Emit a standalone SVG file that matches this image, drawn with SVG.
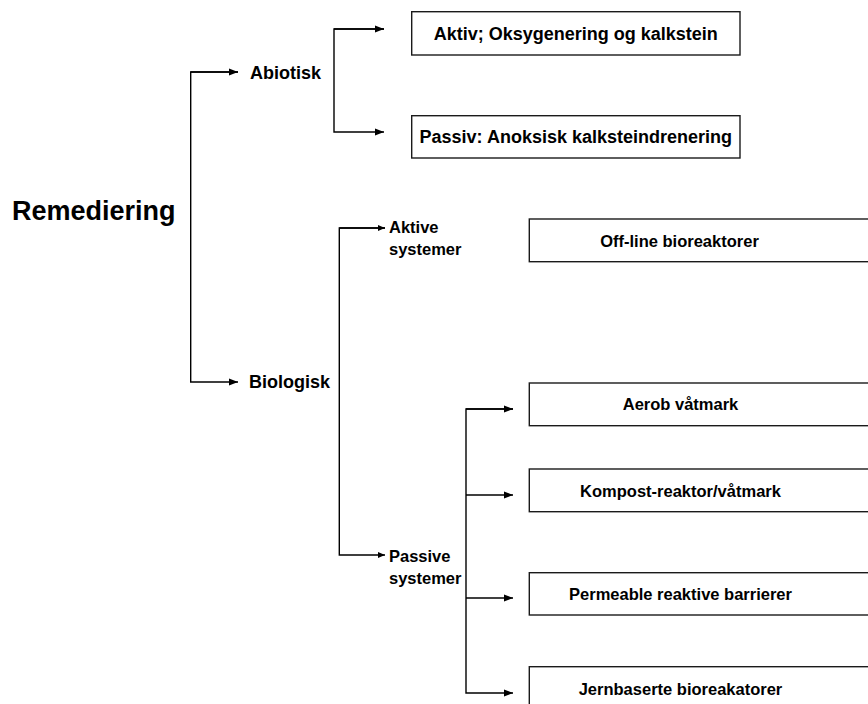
<svg xmlns="http://www.w3.org/2000/svg" width="868" height="704" viewBox="0 0 868 704">
<style>
.ln{fill:none;stroke:#000;stroke-width:1.4}
.box{fill:#fff;stroke:#1a1a1a;stroke-width:1.4}
text{font-family:"Liberation Sans",Arial,sans-serif;font-weight:bold;fill:#000}
.t18{font-size:18px}
.t16{font-size:16.5px}
.mid{text-anchor:middle}
</style>
<defs>
<marker id="ah" markerUnits="userSpaceOnUse" markerWidth="10" markerHeight="8" refX="9" refY="4" orient="auto">
<path d="M0,0.5 L9,4 L0,7.5 z" fill="#000"/>
</marker>
<marker id="ahs" markerUnits="userSpaceOnUse" markerWidth="8" markerHeight="7" refX="7" refY="3" orient="auto">
<path d="M0,0 L7,3 L0,6 z" fill="#000"/>
</marker>
</defs>
<rect width="868" height="704" fill="#fff"/>
<g id="connectors">
<path class="ln" d="M238,72 H190.7 V382 H238" marker-end="url(#ah)"/>
<path class="ln" d="M190.7,72 H238" marker-end="url(#ah)"/>
<path class="ln" d="M384,29 H334 V132 H384" marker-end="url(#ah)"/>
<path class="ln" d="M334,29 H384" marker-end="url(#ah)"/>
<path class="ln" d="M385,228 H339.3 V555 H385" marker-end="url(#ahs)"/>
<path class="ln" d="M339.3,228 H385" marker-end="url(#ahs)"/>
<path class="ln" d="M513,409 H466 V693 H513" marker-end="url(#ah)"/>
<path class="ln" d="M466,409 H513" marker-end="url(#ah)"/>
<path class="ln" d="M466,495 H513" marker-end="url(#ah)"/>
<path class="ln" d="M466,598 H513" marker-end="url(#ah)"/>
</g>
<g id="remediering"><text x="12" y="220" style="font-size:27px">Remediering</text></g>
<g id="abiotisk"><text class="t18" x="250" y="79">Abiotisk</text></g>
<g id="biologisk"><text class="t18" x="249" y="388">Biologisk</text></g>
<g id="aktiv-oksygenering">
<rect class="box" x="411.7" y="11.7" width="328.3" height="43.3"/>
<text class="t18 mid" x="575.8" y="40">Aktiv; Oksygenering og kalkstein</text>
</g>
<g id="passiv-anoksisk">
<rect class="box" x="411.7" y="115.7" width="328.3" height="42.3"/>
<text class="t18 mid" x="575.8" y="143">Passiv: Anoksisk kalksteindrenering</text>
</g>
<g id="aktive-systemer">
<text class="t16" x="389" y="233">Aktive</text>
<text class="t16" x="389" y="255">systemer</text>
</g>
<g id="passive-systemer">
<text class="t16" x="389" y="561.5">Passive</text>
<text class="t16" x="389" y="583.5">systemer</text>
</g>
<g id="off-line">
<rect class="box" x="529.3" y="219" width="345" height="42.7"/>
<text class="t16 mid" x="679.5" y="246.7">Off-line bioreaktorer</text>
</g>
<g id="aerob">
<rect class="box" x="529.3" y="383" width="345" height="42.7"/>
<text class="t16 mid" x="680.5" y="410">Aerob våtmark</text>
</g>
<g id="kompost">
<rect class="box" x="529.3" y="469" width="345" height="42.7"/>
<text class="t16 mid" x="680.5" y="496.7">Kompost-reaktor/våtmark</text>
</g>
<g id="permeable">
<rect class="box" x="529.3" y="572.7" width="345" height="42.3"/>
<text class="t16 mid" x="680.5" y="600">Permeable reaktive barrierer</text>
</g>
<g id="jernbaserte">
<rect class="box" x="529.3" y="666.7" width="345" height="42.7"/>
<text class="t16 mid" x="680.5" y="695">Jernbaserte bioreakatorer</text>
</g>
</svg>
